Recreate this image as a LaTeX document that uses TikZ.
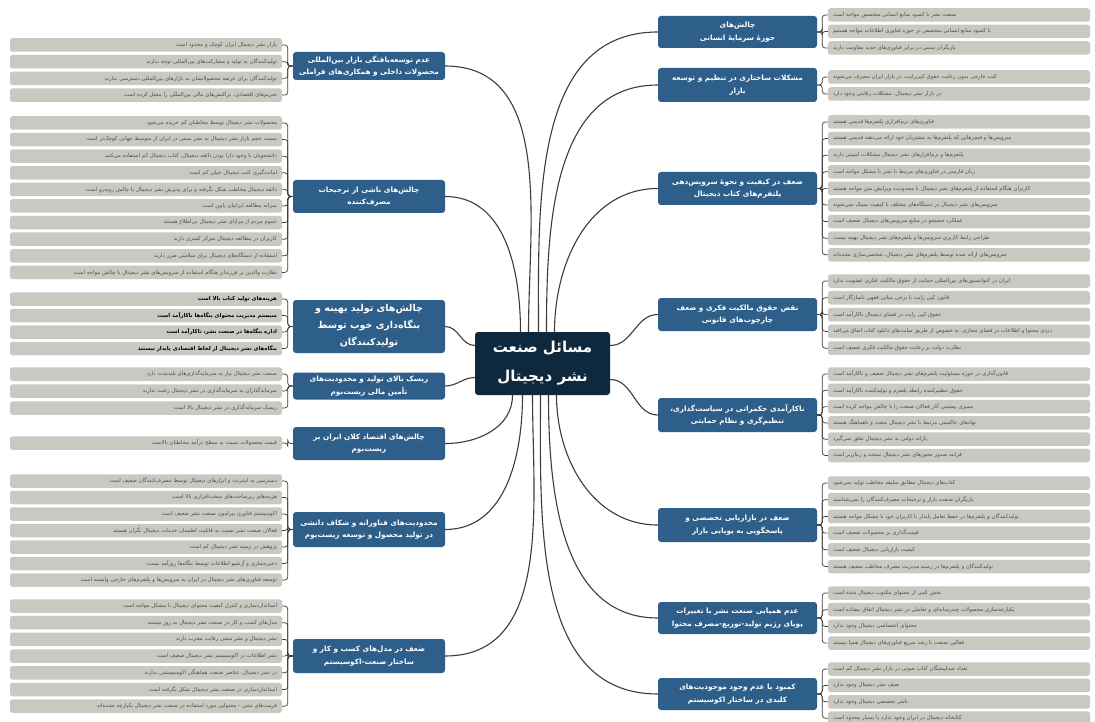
\documentclass[tikz,border=0pt]{standalone}
\usepackage{fontspec}
\newfontfamily\arabicfont[Script=Arabic]{DejaVu Sans}
\TeXXeTstate=1
\newcommand\fa[1]{\beginR #1\endR}
\definecolor{leafc}{RGB}{201,201,194}
\definecolor{leaftxt}{RGB}{78,78,78}
\definecolor{brc}{RGB}{46,94,138}
\definecolor{cenc}{RGB}{14,41,61}
\definecolor{linec}{RGB}{60,60,60}
\tikzset{
  leafL/.style={fill=leafc, rounded corners=2.5pt, minimum height=13.5pt, text width=262pt,
    inner xsep=5pt, inner ysep=0pt, align=right, text=leaftxt,
    font=\arabicfont\fontsize{5.4}{6.5}\selectfont},
  leafR/.style={leafL, text width=252pt, align=left},
  boldleaf/.style={text=black, font=\arabicfont\bfseries\fontsize{5.4}{6.5}\selectfont},
  branch/.style={fill=brc, rounded corners=3pt, text=white, align=center, inner sep=0pt,
    font=\arabicfont\bfseries\fontsize{7.3}{12.5}\selectfont},
  brL/.style={branch, minimum width=152pt},
  brR/.style={branch, minimum width=159pt},
  hub/.style={fill=cenc, rounded corners=3pt, minimum width=135pt, minimum height=63pt,
    text=white, align=center, inner sep=0pt, font=\arabicfont\bfseries\fontsize{15}{29}\selectfont},
  link/.style={draw=linec, line width=1.1pt},
  brk/.style={draw=linec, line width=0.7pt, rounded corners=3pt},
}
% left leaf group: [style] branch name, first y, pitch, list (items already wrapped in \fa)
\newcommand\groupL[5][]{%
  \foreach \txt [count=\i] in {#5} {
    \node[leafL,#1] (#2-\i) at (146,{-(#3)-(#4)*(\i-1)}) {\txt};
    \draw[brk] (#2.west) -- ++(-5,0) |- (#2-\i.east);
  }}
\newcommand\groupR[4]{%
  \foreach \txt [count=\i] in {#4} {
    \node[leafR] (#1-\i) at (959,{-(#2)-(#3)*(\i-1)}) {\txt};
    \draw[brk] (#1.east) -- ++(5,0) |- (#1-\i.west);
  }}
\begin{document}
\begin{tikzpicture}[x=1pt,y=1pt]
\useasboundingbox (0,0) rectangle (1095,-722);
\fill[white] (0,0) rectangle (1095,-722);

% ---------- hub ----------
\node[hub] (C) at (542.5,-363.5) {\fa{مسائل صنعت}\\\fa{نشر دیجیتال}};

% ---------- left branches ----------
\node[brL, minimum height=28pt] (B1) at (369,-66) {\fa{عدم توسعه‌یافتگی بازار بین‌المللی}\\\fa{محصولات داخلی و همکاری‌های فراملی}};
\node[brL, minimum height=33pt] (B2) at (369,-196.5) {\fa{چالش‌های ناشی از ترجیحات}\\\fa{مصرف‌کننده}};
\node[brL, minimum height=53pt, font=\arabicfont\bfseries\fontsize{9.5}{17}\selectfont] (B3) at (369,-326.5) {\fa{چالش‌های تولید بهینه و}\\\fa{بنگاه‌داری خوب توسط}\\\fa{تولیدکنندگان}};
\node[brL, minimum height=27pt] (B4) at (369,-386) {\fa{ریسک بالای تولید و محدودیت‌های}\\\fa{تأمین مالی زیست‌بوم}};
\node[brL, minimum height=33pt] (B5) at (369,-443.5) {\fa{چالش‌های اقتصاد کلان ایران بر}\\\fa{زیست‌بوم}};
\node[brL, minimum height=35pt] (B6) at (369,-529.5) {\fa{محدودیت‌های فناورانه و شکاف دانشی}\\\fa{در تولید محصول و توسعه زیست‌بوم}};
\node[brL, minimum height=34pt] (B7) at (369,-656) {\fa{ضعف در مدل‌های کسب و کار و}\\\fa{ساختار صنعت-اکوسیستم}};

% ---------- right branches ----------
\node[brR, minimum height=32pt] (R1) at (737.5,-32) {\fa{چالش‌های}\\\fa{حوزهٔ سرمایهٔ انسانی}};
\node[brR, minimum height=34pt] (R2) at (737.5,-85) {\fa{مشکلات ساختاری در تنظیم و توسعه}\\\fa{بازار}};
\node[brR, minimum height=33pt] (R3) at (737.5,-188.5) {\fa{ضعف در کیفیت و نحوهٔ سرویس‌دهی}\\\fa{پلتفرم‌های کتاب دیجیتال}};
\node[brR, minimum height=33pt] (R4) at (737.5,-314.5) {\fa{نقض حقوق مالکیت فکری و ضعف}\\\fa{چارچوب‌های قانونی}};
\node[brR, minimum height=34pt] (R5) at (737.5,-415) {\fa{ناکارآمدی حکمرانی در سیاست‌گذاری،}\\\fa{تنظیم‌گری و نظام حمایتی}};
\node[brR, minimum height=34pt] (R6) at (737.5,-525) {\fa{ضعف در بازاریابی تخصصی و}\\\fa{پاسخگویی به پویایی بازار}};
\node[brR, minimum height=32pt] (R7) at (737.5,-618) {\fa{عدم همپایی صنعت نشر با تغییرات}\\\fa{پویای رژیم تولید-توزیع-مصرف محتوا}};
\node[brR, minimum height=32pt] (R8) at (737.5,-694) {\fa{کمبود یا عدم وجود موجودیت‌های}\\\fa{کلیدی در ساختار اکوسیستم}};

% ---------- hub links ----------
\draw[link] (C.north) ++(-14,0) to[out=90,in=0] (B1.east);
\draw[link] (C.north) ++(-22,0) to[out=90,in=0] (B2.east);
\draw[link] (C.west) ++(0,18) to[out=180,in=0] (B3.east);
\draw[link] (C.west) ++(0,-14) to[out=180,in=0] (B4.east);
\draw[link] (C.south) ++(-30,0) to[out=-90,in=0] (B5.east);
\draw[link] (C.south) ++(-20,0) to[out=-90,in=0] (B6.east);
\draw[link] (C.south) ++(-10,0) to[out=-90,in=0] (B7.east);
\draw[link] (C.north) ++(-4,0) to[out=90,in=180] (R1.west);
\draw[link] (C.north) ++(4,0) to[out=90,in=180] (R2.west);
\draw[link] (C.north) ++(12,0) to[out=90,in=180] (R3.west);
\draw[link] (C.east) ++(0,18) to[out=0,in=180] (R4.west);
\draw[link] (C.east) ++(0,-16) to[out=0,in=180] (R5.west);
\draw[link] (C.south) ++(14,0) to[out=-90,in=180] (R6.west);
\draw[link] (C.south) ++(6,0) to[out=-90,in=180] (R7.west);
\draw[link] (C.south) ++(-2,0) to[out=-90,in=180] (R8.west);

% ---------- left leaves ----------
\groupL{B1}{45}{16.7}{
 {\fa{بازار نشر دیجیتال ایران کوچک و محدود است}},
 {\fa{تولیدکنندگان به تولید و مشارکت‌های بین‌المللی توجه ندارند}},
 {\fa{تولیدکنندگان برای عرضه محصولاتشان به بازارهای بین‌المللی دسترسی ندارند}},
 {\fa{تحریم‌های اقتصادی، تراکنش‌های مالی بین‌المللی را مختل کرده است}}}
\groupL{B2}{123}{16.6}{
 {\fa{محصولات نشر دیجیتال توسط مخاطبان کم خریده می‌شود}},
 {\fa{نسبت حجم بازار نشر دیجیتال به نشر سنتی در ایران از متوسط جهانی کوچک‌تر است}},
 {\fa{دانشجویان با وجود دارا بودن ذائقه دیجیتال، کتاب دیجیتال کم استفاده می‌کنند}},
 {\fa{امانت‌گیری کتب دیجیتال خیلی کم است}},
 {\fa{ذائقه دیجیتال مخاطب شکل نگرفته و برای پذیرش نشر دیجیتال با چالش روبه‌رو است}},
 {\fa{سرانه مطالعه ایرانیان پایین است}},
 {\fa{عموم مردم از مزایای نشر دیجیتال بی‌اطلاع هستند}},
 {\fa{کاربران در مطالعه دیجیتال تمرکز کمتری دارند}},
 {\fa{استفاده از دستگاه‌های دیجیتال برای سلامتی ضرر دارند}},
 {\fa{نظارت والدین بر فرزندان هنگام استفاده از سرویس‌های نشر دیجیتال با چالش مواجه است}}}
\groupL[boldleaf]{B3}{299}{16.5}{
 {\fa{هزینه‌های تولید کتاب بالا است}},
 {\fa{سیستم مدیریت محتوای بنگاه‌ها ناکارآمد است}},
 {\fa{اداره بنگاه‌ها در صنعت نشر، ناکارآمد است}},
 {\fa{بنگاه‌های نشر دیجیتال از لحاظ اقتصادی پایدار نیستند}}}
\groupL{B4}{374}{17}{
 {\fa{صنعت نشر دیجیتال نیاز به سرمایه‌گذاری‌های بلندمدت دارد}},
 {\fa{سرمایه‌گذاران به سرمایه‌گذاری در نشر دیجیتال رغبت ندارند}},
 {\fa{ریسک سرمایه‌گذاری در نشر دیجیتال بالا است}}}
\groupL{B5}{443}{16.7}{
 {\fa{قیمت محصولات نسبت به سطح درآمد مخاطبان بالاست}}}
\groupL{B6}{481}{16.5}{
 {\fa{دسترسی به اینترنت و ابزارهای دیجیتال توسط مصرف‌کنندگان ضعیف است}},
 {\fa{هزینه‌های زیرساخت‌های سخت‌افزاری بالا است}},
 {\fa{اکوسیستم فناوری پیرامون صنعت نشر ضعیف است}},
 {\fa{فعالان صنعت نشر نسبت به قابلیت اطمینان خدمات دیجیتال نگران هستند}},
 {\fa{پژوهش در زمینه نشر دیجیتال کم است}},
 {\fa{ذخیره‌سازی و آرشیو اطلاعات توسط بنگاه‌ها روزآمد نیست}},
 {\fa{توسعه فناوری‌های نشر دیجیتال در ایران به سرویس‌ها و پلتفرم‌های خارجی وابسته است}}}
\groupL{B7}{606}{16.7}{
 {\fa{استانداردسازی و کنترل کیفیت محتوای دیجیتال با مشکل مواجه است}},
 {\fa{مدل‌های کسب و کار در صنعت نشر دیجیتال به روز نیستند}},
 {\fa{نشر دیجیتال و نشر سنتی رقابت مخرب دارند}},
 {\fa{نشر اطلاعات در اکوسیستم نشر دیجیتال ضعیف است}},
 {\fa{در نشر دیجیتال، عناصر صنعت هماهنگی اکوسیستمی ندارند}},
 {\fa{استانداردسازی در صنعت نشر دیجیتال شکل نگرفته است}},
 {\fa{فرمت‌های متنی - محتوایی مورد استفاده در صنعت نشر دیجیتال یکپارچه نشده‌اند}}}

% ---------- right leaves ----------
\groupR{R1}{15}{16.5}{
 {\fa{صنعت نشر با کمبود منابع انسانی متخصص مواجه است}},
 {\fa{با کمبود منابع انسانی متخصص در حوزه فناوری اطلاعات مواجه هستیم}},
 {\fa{بازیگران سنتی در برابر فناوری‌های جدید مقاومت دارند}}}
\groupR{R2}{77}{17}{
 {\fa{کتب خارجی بدون رعایت حقوق کپی‌رایت، در بازار ایران مصرف می‌شوند}},
 {\fa{در بازار نشر دیجیتال، مشکلات رقابتی وجود دارد}}}
\groupR{R3}{122}{16.6}{
 {\fa{فناوری‌های نرم‌افزاری پلتفرم‌ها قدیمی هستند}},
 {\fa{سرویس‌ها و فیچرهایی که پلتفرم‌ها به مشتریان خود ارائه می‌دهند قدیمی هستند}},
 {\fa{پلتفرم‌ها و نرم‌افزارهای نشر دیجیتال مشکلات امنیتی دارند}},
 {\fa{زبان فارسی در فناوری‌های مرتبط با نشر با مشکل مواجه است}},
 {\fa{کاربران هنگام استفاده از پلتفرم‌های نشر دیجیتال با محدودیت ویرایش متن مواجه هستند}},
 {\fa{سرویس‌های نشر دیجیتال در دستگاه‌های مختلف با کیفیت سینک نمی‌شوند}},
 {\fa{عملکرد جستجو در منابع سرویس‌های دیجیتال ضعیف است}},
 {\fa{طراحی رابط کاربری سرویس‌ها و پلتفرم‌های نشر دیجیتال بهینه نیست}},
 {\fa{سرویس‌های ارائه شده توسط پلتفرم‌های نشر دیجیتال، شخصی‌سازی نشده‌اند}}}
\groupR{R4}{281}{16.8}{
 {\fa{ایران در کنوانسیون‌های بین‌المللی حمایت از حقوق مالکیت فکری عضویت ندارد}},
 {\fa{قانون کپی رایت با برخی مبانی فقهی ناسازگار است}},
 {\fa{حقوق کپی رایت در فضای دیجیتال ناکارآمد است}},
 {\fa{دزدی محتوا و اطلاعات در فضای مجازی، به خصوص از طریق سایت‌های دانلود کتاب اتفاق می‌افتد}},
 {\fa{نظارت دولت بر رعایت حقوق مالکیت فکری ضعیف است}}}
\groupR{R5}{374}{16.3}{
 {\fa{قانون‌گذاری در حوزه مسئولیت پلتفرم‌های نشر دیجیتال ضعیف و ناکارآمد است}},
 {\fa{حقوق تنظیم‌کننده رابطه پلتفرم و تولیدکننده ناکارآمد است}},
 {\fa{ممیزی پیشینی آثار فعالان صنعت را با چالش مواجه کرده است}},
 {\fa{نهادهای حاکمیتی مرتبط با نشر دیجیتال متعدد و ناهماهنگ هستند}},
 {\fa{یارانه دولتی به نشر دیجیتال تعلق نمی‌گیرد}},
 {\fa{فرایند صدور مجوزهای نشر دیجیتال سخت و زمان‌بر است}}}
\groupR{R6}{483}{16.7}{
 {\fa{کتاب‌های دیجیتال مطابق سلیقه مخاطب تولید نمی‌شود}},
 {\fa{بازیگران صنعت بازار و ترجیحات مصرف‌کنندگان را نمی‌شناسند}},
 {\fa{تولیدکنندگان و پلتفرم‌ها در حفظ تعامل پایدار با کاربران خود با مشکل مواجه هستند}},
 {\fa{قیمت‌گذاری بر محصولات ضعیف است}},
 {\fa{کیفیت بازاریابی دیجیتال ضعیف است}},
 {\fa{تولیدکنندگان و پلتفرم‌ها در زمینه مدیریت مصرف مخاطب ضعیف هستند}}}
\groupR{R7}{593}{16.7}{
 {\fa{بخش کمی از محتوای مکتوب دیجیتال شده است}},
 {\fa{یکپارچه‌سازی محصولات چندرسانه‌ای و تعاملی در نشر دیجیتال اتفاق نیفتاده است}},
 {\fa{محتوای اختصاصی دیجیتال وجود ندارد}},
 {\fa{فعالین صنعت با رشد سریع فناوری‌های دیجیتال همپا نیستند}}}
\groupR{R8}{669}{16.4}{
 {\fa{تعداد صداپیشگان کتاب صوتی در بازار نشر دیجیتال کم است}},
 {\fa{صنف نشر دیجیتال وجود ندارد}},
 {\fa{ناشر تخصصی دیجیتال وجود ندارد}},
 {\fa{کتابخانه دیجیتال در ایران وجود ندارد یا بسیار محدود است}}}
\end{tikzpicture}
\end{document}
